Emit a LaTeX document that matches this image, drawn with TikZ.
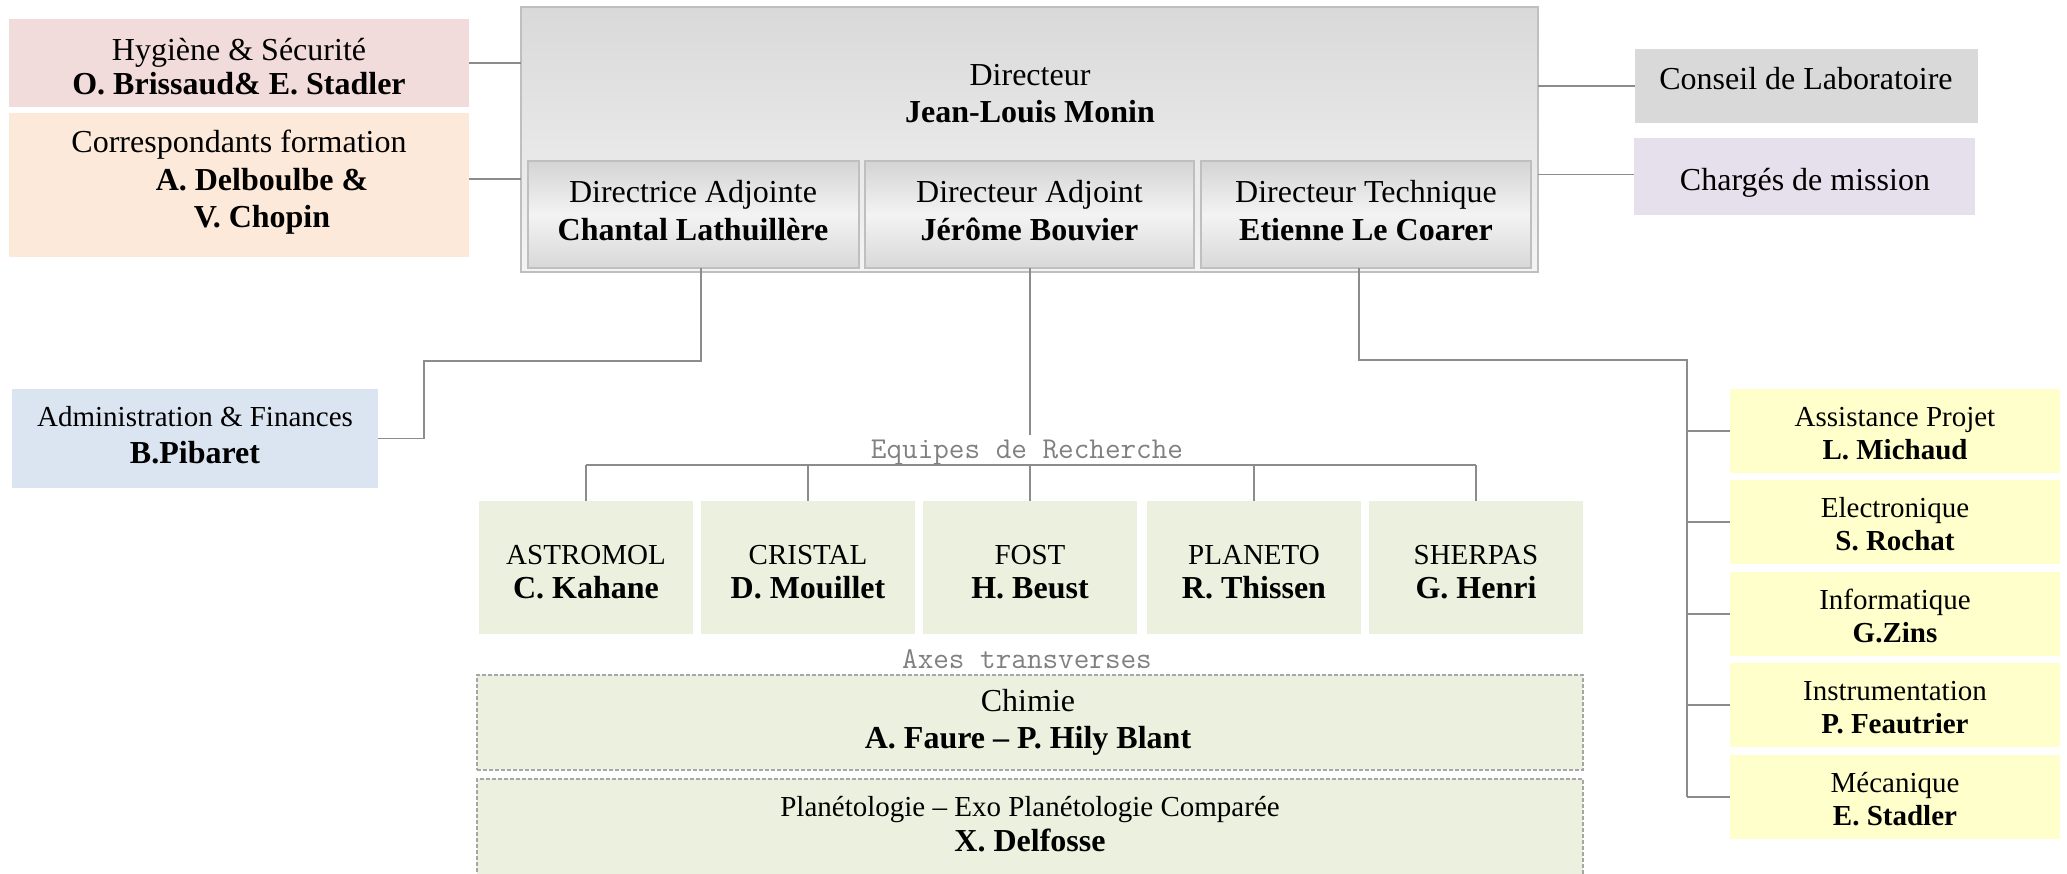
\documentclass[tikz,border=0pt]{standalone}
\usepackage{fontspec}
\setmainfont{Liberation Serif}
\definecolor{hygc}{HTML}{F2DCDB}
\definecolor{corc}{HTML}{FDE9D9}
\definecolor{conc}{HTML}{D9D9D9}
\definecolor{chgc}{HTML}{E5E0EC}
\definecolor{admc}{HTML}{DBE5F1}
\definecolor{yelc}{HTML}{FFFFCC}
\definecolor{grnc}{HTML}{EBF1DE}
\definecolor{linec}{HTML}{8C8C8C}
\definecolor{bordc}{HTML}{BFBFBF}
\definecolor{dashc}{HTML}{A6A6A6}
\definecolor{labc}{HTML}{808080}
\definecolor{gA}{HTML}{D9D9D9}
\definecolor{gB}{HTML}{F4F4F4}
\definecolor{gC}{HTML}{D4D4D4}
\definecolor{gD}{HTML}{F3F3F3}
\newcommand\fA{\fontsize{32}{36}\selectfont}
\newcommand\fB{\fontsize{29}{33}\selectfont}
\newcommand\fM{\fontsize{30.3}{34}\selectfont\ttfamily}
\begin{document}
\begin{tikzpicture}[x=1pt,y=-1pt,
  plainbox/.style={rectangle, inner sep=0pt, outer sep=0pt, draw=none},
  fillbox/.style={plainbox, fill=#1},
  dirbox/.style={plainbox, draw=bordc, line width=2pt, top color=gA, bottom color=gB},
  subbox/.style={plainbox, draw=bordc, line width=2pt, top color=gC, bottom color=gC!90!white, middle color=gD},
  dashbox/.style={plainbox, fill=grnc, draw=dashc, line width=1.2pt, dash pattern=on 4pt off 2pt},
  tx/.style={anchor=base, inner sep=0pt, outer sep=0pt},
  conn/.style={draw=linec, line width=1.5pt}]
\useasboundingbox (0,0) rectangle (2067,873);
\clip (0,0) rectangle (2067,873);

% ---- boxes ----
\node[fillbox=hygc, minimum width=460pt, minimum height=88pt] (hyg) at (239,63) {};
\node[fillbox=corc, minimum width=460pt, minimum height=144pt] (corr) at (239,185) {};
\node[dirbox, minimum width=1017pt, minimum height=265pt] (dir) at (1029.5,139.5) {};
\node[subbox, minimum width=331pt, minimum height=107pt] (da) at (693.5,214.5) {};
\node[subbox, minimum width=329pt, minimum height=107pt] (dj) at (1029.5,214.5) {};
\node[subbox, minimum width=330pt, minimum height=107pt] (dt) at (1366,214.5) {};
\node[fillbox=conc, minimum width=343pt, minimum height=74pt] (cons) at (1806.5,86) {};
\node[fillbox=chgc, minimum width=341pt, minimum height=77pt] (chg) at (1804.5,176.5) {};
\node[fillbox=admc, minimum width=366pt, minimum height=99pt] (adm) at (195,438.5) {};
\node[fillbox=yelc, minimum width=330pt, minimum height=84pt] (r1) at (1895,431) {};
\node[fillbox=yelc, minimum width=330pt, minimum height=84pt] (r2) at (1895,522) {};
\node[fillbox=yelc, minimum width=330pt, minimum height=84pt] (r3) at (1895,614) {};
\node[fillbox=yelc, minimum width=330pt, minimum height=84pt] (r4) at (1895,705) {};
\node[fillbox=yelc, minimum width=330pt, minimum height=84pt] (r5) at (1895,797) {};
\node[fillbox=grnc, minimum width=214pt, minimum height=133pt] (e1) at (586,567.5) {};
\node[fillbox=grnc, minimum width=214pt, minimum height=133pt] (e2) at (808,567.5) {};
\node[fillbox=grnc, minimum width=214pt, minimum height=133pt] (e3) at (1030,567.5) {};
\node[fillbox=grnc, minimum width=214pt, minimum height=133pt] (e4) at (1254,567.5) {};
\node[fillbox=grnc, minimum width=214pt, minimum height=133pt] (e5) at (1476,567.5) {};
\node[dashbox, minimum width=1106pt, minimum height=95pt] (chim) at (1030,722.5) {};
\node[dashbox, minimum width=1106pt, minimum height=111pt] (plan) at (1030,834.5) {};

% ---- texts ----
\node[tx, font=\fA] (thyg1) at (239,60) {Hygiène \& Sécurité};
\node[tx, font=\fA\bfseries] (thyg2) at (239,94) {O. Brissaud\& E. Stadler};
\node[tx, font=\fA] (tcor1) at (239,152) {Correspondants formation};
\node[tx, font=\fA\bfseries] (tcor2) at (262,190) {A. Delboulbe \&};
\node[tx, font=\fA\bfseries] (tcor3) at (262,227) {V. Chopin};
\node[tx, font=\fA] (tdir1) at (1030,85) {Directeur};
\node[tx, font=\fA\bfseries] (tdir2) at (1030,122) {Jean-Louis Monin};
\node[tx, font=\fA] (tda1) at (693,202) {Directrice Adjointe};
\node[tx, font=\fA\bfseries] (tda2) at (693,240) {Chantal Lathuillère};
\node[tx, font=\fA] (tdj1) at (1029.5,202) {Directeur Adjoint};
\node[tx, font=\fA\bfseries] (tdj2) at (1029.5,240) {Jérôme Bouvier};
\node[tx, font=\fA] (tdt1) at (1366,202) {Directeur Technique};
\node[tx, font=\fA\bfseries] (tdt2) at (1366,240) {Etienne Le Coarer};
\node[tx, font=\fA] (tcons) at (1806,89) {Conseil de Laboratoire};
\node[tx, font=\fA] (tchg) at (1805,190) {Chargés de mission};
\node[tx, font=\fB] (tadm1) at (195,426) {Administration \& Finances};
\node[tx, font=\fA\bfseries] (tadm2) at (195,463) {B.Pibaret};
\node[tx, font=\fB] (tr11) at (1895,426) {Assistance Projet};
\node[tx, font=\fB\bfseries] (tr12) at (1895,459) {L. Michaud};
\node[tx, font=\fB] (tr21) at (1895,517.5) {Electronique};
\node[tx, font=\fB\bfseries] (tr22) at (1895,550.5) {S. Rochat};
\node[tx, font=\fB] (tr31) at (1895,609) {Informatique};
\node[tx, font=\fB\bfseries] (tr32) at (1895,642) {G.Zins};
\node[tx, font=\fB] (tr41) at (1895,700.5) {Instrumentation};
\node[tx, font=\fB\bfseries] (tr42) at (1895,733.5) {P. Feautrier};
\node[tx, font=\fB] (tr51) at (1895,792) {Mécanique};
\node[tx, font=\fB\bfseries] (tr52) at (1895,825) {E. Stadler};
\node[tx, font=\fB] (te11) at (586,564) {ASTROMOL};
\node[tx, font=\fA\bfseries] (te12) at (586,598) {C. Kahane};
\node[tx, font=\fB] (te21) at (808,564) {CRISTAL};
\node[tx, font=\fA\bfseries] (te22) at (808,598) {D. Mouillet};
\node[tx, font=\fB] (te31) at (1030,564) {FOST};
\node[tx, font=\fA\bfseries] (te32) at (1030,598) {H. Beust};
\node[tx, font=\fB] (te41) at (1254,564) {PLANETO};
\node[tx, font=\fA\bfseries] (te42) at (1254,598) {R. Thissen};
\node[tx, font=\fB] (te51) at (1476,564) {SHERPAS};
\node[tx, font=\fA\bfseries] (te52) at (1476,598) {G. Henri};
\node[tx, font=\fA] (tch1) at (1028,711) {Chimie};
\node[tx, font=\fA\bfseries] (tch2) at (1028,748) {A. Faure – P. Hily Blant};
\node[tx, font=\fB] (tpl1) at (1030,816) {Planétologie – Exo Planétologie Comparée};
\node[tx, font=\fA\bfseries] (tpl2) at (1030,851) {X. Delfosse};
\node[tx, font=\fM, text=labc] (leq) at (1027,458) {Equipes de Recherche};
\node[tx, font=\fM, text=labc] (lax) at (1027,668) {Axes transverses};

% ---- connectors ----
\draw[conn] (hyg.east) -- (hyg.east -| dir.west);
\draw[conn] ([yshift=6pt]corr.east) -- ([yshift=6pt]corr.east -| dir.west);
\draw[conn] (cons.west -| dir.east) -- (cons.west);
\draw[conn] ([yshift=2pt]chg.west -| dir.east) -- ([yshift=2pt]chg.west);

\coordinate (ja1) at (701,361);
\coordinate (ja2) at (424,361);
\draw[conn] (da.south -| ja1) -- (ja1) -- (ja2) -- (ja2 |- adm.east) -- (adm.east);

\coordinate (jt1) at (1359,360);
\coordinate (jt2) at (1687,360);
\draw[conn] (dt.south -| jt1) -- (jt1) -- (jt2) -- (jt2 |- r5.west);
\foreach \r in {r1,r2,r3,r4,r5} \draw[conn] (jt2 |- \r.west) -- (\r.west);

\coordinate (je) at (1030,435);
\coordinate (bus) at (0,465);
\draw[conn] (dj.south -| je) -- (je);
\draw[conn] (e1.north |- bus) -- (e5.north |- bus);
\foreach \e in {e1,e2,e3,e4,e5} \draw[conn] (\e.north |- bus) -- (\e.north);
\end{tikzpicture}
\end{document}
